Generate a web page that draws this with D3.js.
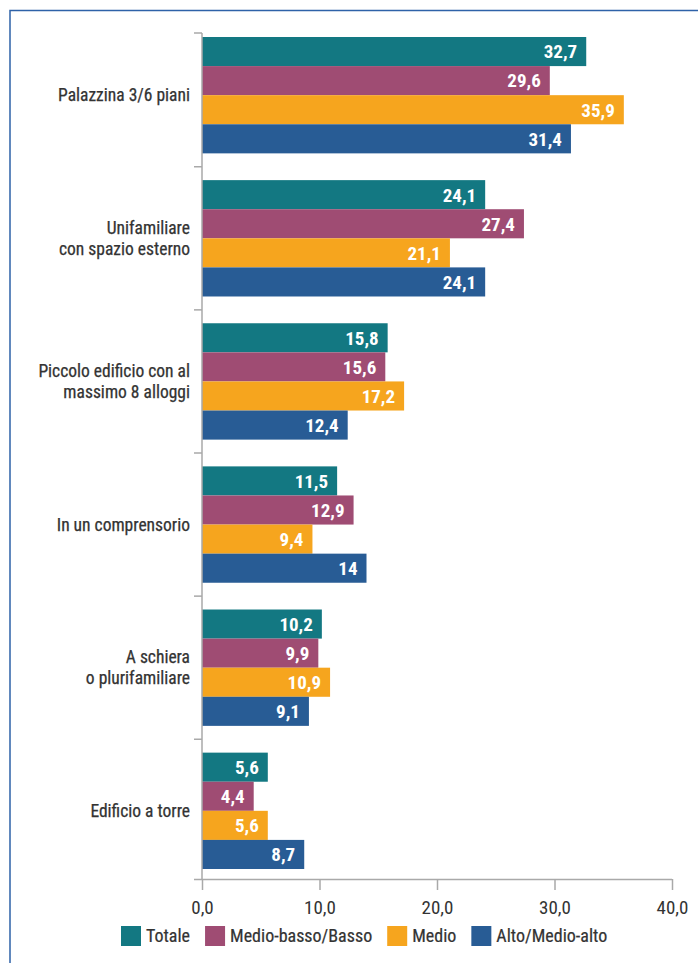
<!DOCTYPE html>
<html>
<head>
<meta charset="utf-8">
<script src="https://cdn.jsdelivr.net/npm/d3@7"></script>
<style>
  html, body { margin: 0; padding: 0; background: #fff; }
  svg { display: block; }
</style>
</head>
<body>
<svg id="chart" width="698" height="963"></svg>
<script>
// Tipologia di abitazione preferita, per fascia di reddito (%)
const categories = [
  ["Palazzina 3/6 piani"],
  ["Unifamiliare", "con spazio esterno"],
  ["Piccolo edificio con al", "massimo 8 alloggi"],
  ["In un comprensorio"],
  ["A schiera", "o plurifamiliare"],
  ["Edificio a torre"]
];
const seriesNames = ["Totale", "Medio-basso/Basso", "Medio", "Alto/Medio-alto"];
const totale      = [32.7, 24.1, 15.8, 11.5, 10.2, 5.6];
const medioBasso  = [29.6, 27.4, 15.6, 12.9, 9.9, 4.4];
const medio       = [35.9, 21.1, 17.2, 9.4, 10.9, 5.6];
const altoMedio   = [31.4, 24.1, 12.4, 14, 9.1, 8.7];
const xTicks = [0, 10, 20, 30, 40];
const colors = ["#137882", "#9f4c73", "#f6a51e", "#285c95"];

const seriesValues = [totale, medioBasso, medio, altoMedio];
const valFmt = v => String(v).replace(".", ",");
const tickFmt = v => d3.format(".1f")(v).replace(".", ",");

const svg = d3.select("#chart");
const FONT = "'Liberation Sans Narrow', 'Roboto Condensed', 'DejaVu Sans Condensed', sans-serif";
const TEXT = "#333";

// outer frame (left and top edges visible)
svg.append("path")
  .attr("d", "M10,963 V10.5 H698")
  .attr("fill", "none")
  .attr("stroke", "#2e62a8")
  .attr("stroke-width", 1.5);

const x = d3.scaleLinear().domain([0, 40]).range([202, 672]);
const y0 = d3.scaleBand().domain(d3.range(categories.length)).range([37, 869]).paddingInner(0.187).paddingOuter(0);
const y1 = d3.scaleBand().domain(d3.range(seriesNames.length)).range([0, y0.bandwidth()]);

// bars
const groups = svg.append("g").selectAll("g")
  .data(categories.map((c, i) => i))
  .join("g")
  .attr("transform", i => `translate(0,${y0(i)})`);

groups.selectAll("rect")
  .data(i => seriesValues.map((s, k) => ({ k, v: s[i] })))
  .join("rect")
  .attr("x", x(0))
  .attr("y", d => y1(d.k))
  .attr("width", d => x(d.v) - x(0))
  .attr("height", y1.bandwidth())
  .attr("fill", d => colors[d.k]);

groups.selectAll("text.val")
  .data(i => seriesValues.map((s, k) => ({ k, v: s[i] })))
  .join("text")
  .attr("class", "val")
  .attr("x", d => x(d.v) - 9)
  .attr("y", d => y1(d.k) + y1.bandwidth() / 2)
  .attr("dy", "0.36em")
  .attr("text-anchor", "end")
  .attr("fill", "#fff")
  .attr("font-family", FONT)
  .attr("font-weight", "bold")
  .attr("font-size", 19)
  .text(d => valFmt(d.v));

// category labels
const labels = svg.append("g").selectAll("text")
  .data(categories)
  .join("text")
  .attr("text-anchor", "end")
  .attr("fill", TEXT)
  .attr("stroke", TEXT)
  .attr("stroke-width", 0.25)
  .attr("font-family", FONT)
  .attr("font-size", 17.5);
labels.each(function (lines, i) {
  const cy = y0(i) + y0.bandwidth() / 2;
  const lh = 21;
  d3.select(this).selectAll("tspan")
    .data(lines)
    .join("tspan")
    .attr("x", 190)
    .attr("y", (d, j) => cy + (j - (lines.length - 1) / 2) * lh)
    .attr("dy", "0.35em")
    .text(d => d);
});

// vertical axis with separators between groups
const axisColor = "#a9a9a9";
const yAx = svg.append("g").attr("stroke", axisColor).attr("stroke-width", 1.5).attr("fill", "none");
yAx.append("line").attr("x1", x(0)).attr("x2", x(0)).attr("y1", 33).attr("y2", 879);
const seps = [33].concat(d3.range(1, categories.length).map(i => y0(i) - (y0.step() - y0.bandwidth()) / 2));
yAx.selectAll("line.sep").data(seps).join("line")
  .attr("class", "sep")
  .attr("x1", x(0) - 8).attr("x2", x(0))
  .attr("y1", d => d).attr("y2", d => d);

// horizontal axis
const xAxis = d3.axisBottom(x).tickValues(xTicks).tickFormat(tickFmt).tickSize(11).tickSizeOuter(0);
const gx = svg.append("g").attr("transform", "translate(0,879)").call(xAxis);
gx.select(".domain").attr("stroke", axisColor).attr("stroke-width", 1.5).attr("d", `M${x(0) - 8},0.5H${x(40)}`);
gx.selectAll(".tick line").attr("stroke", axisColor).attr("stroke-width", 1.5).attr("y1", 0).attr("y2", 11);
gx.selectAll(".tick text")
  .attr("y", 22)
  .attr("fill", TEXT)
  .attr("font-family", FONT)
  .attr("font-size", 19);

// legend
const legend = svg.append("g").attr("transform", "translate(0,936)");
let lx = 121;
seriesNames.forEach((name, k) => {
  legend.append("rect").attr("x", lx).attr("y", -10).attr("width", 20).attr("height", 20).attr("fill", colors[k]);
  const t = legend.append("text")
    .attr("x", lx + 25).attr("y", 0).attr("dy", "0.35em")
    .attr("fill", TEXT)
    .attr("stroke", TEXT)
    .attr("stroke-width", 0.2)
    .attr("font-family", FONT)
    .attr("font-size", 18)
    .text(name);
  lx += 25 + t.node().getComputedTextLength() + 15;
});
</script>
</body>
</html>
